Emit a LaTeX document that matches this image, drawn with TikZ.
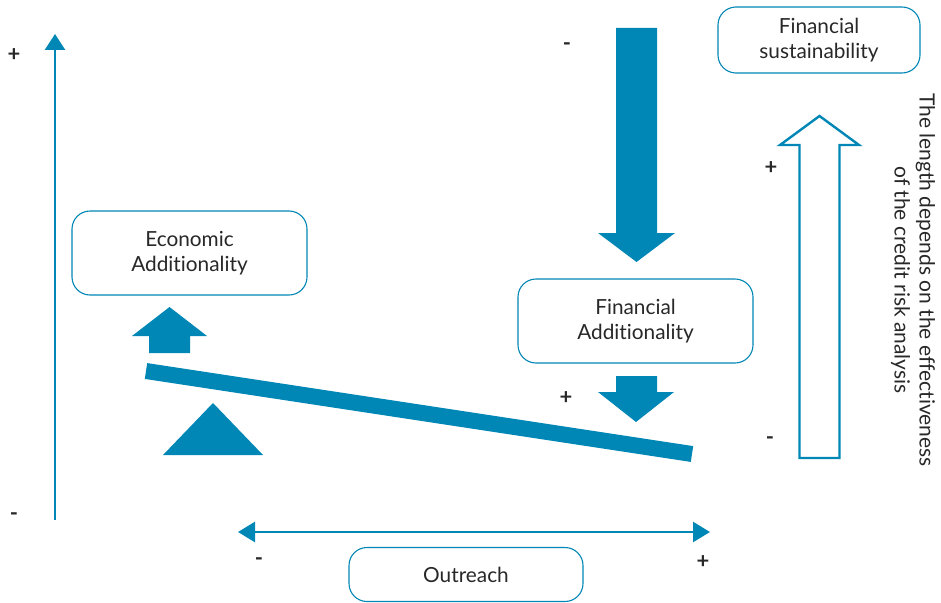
\documentclass[tikz,border=0pt]{standalone}
\usepackage{fontspec}
\setmainfont[Ligatures={NoCommon}]{Lato}
\usetikzlibrary{arrows.meta}
\definecolor{cblue}{RGB}{0,135,181}
\definecolor{ctext}{RGB}{40,40,40}
\begin{document}
\begin{tikzpicture}[x=1pt,y=-1pt,
  box/.style={draw=cblue,line width=1.1pt,rounded corners=18pt,fill=white,
    text=ctext,align=center,font=\fontsize{20.8}{25}\selectfont,inner sep=0pt},
  sign/.style={text=ctext,font=\fontsize{22}{22}\selectfont\bfseries,inner sep=0pt},
  solid arrow/.style={fill=cblue,draw=none},
  hollow arrow/.style={draw=cblue,line width=2.4pt,fill=white,line join=miter}]
\useasboundingbox (0,0) rectangle (941,602);
% left vertical axis
\coordinate (axB) at (55,520);
\coordinate (axT) at (55,34);
\draw[cblue,line width=2.6pt,-{Triangle[length=16pt,width=20pt]}] (axB) -- (axT);
\node[sign] (pl1) at (14,55) {+};
\node[sign] (mi1) at (14,517) {-};
% big down arrow
\fill[solid arrow] (616,28) -- (657,28) -- (657,233) -- (675,233) -- (636.5,262) -- (598,233) -- (616,233) -- cycle;
\node[sign] (mi2) at (567,47) {-};
% Financial sustainability
\node[box,minimum width=202pt,minimum height=66pt] (fs) at (819,40) {Financial\\sustainability};
% hollow up arrow
\draw[hollow arrow] (799.5,458) -- (839.5,458) -- (839.5,145) -- (859,145) -- (819.5,116) -- (780,145) -- (799.5,145) -- cycle;
\node[sign] (pl2) at (771,168) {+};
\node[sign] (mi3) at (770,441) {-};
\node[text=ctext,align=center,rotate=-90,font=\fontsize{21}{25}\selectfont,inner sep=0pt] (len) at (913,280)
  {The length depends on the effectiveness\\of the credit risk analysis};
% Economic additionality
\node[box,minimum width=235pt,minimum height=84pt] (ea) at (189.5,253) {Economic\\Additionality};
% small up arrow
\fill[solid arrow] (149,353) -- (190,353) -- (190,336) -- (207,336) -- (169.5,307) -- (132,336) -- (149,336) -- cycle;
% beam
\coordinate (bL) at (146,371);
\coordinate (bR) at (692,454);
\draw[cblue,line width=16pt] (bL) -- (bR);
% fulcrum
\fill[solid arrow] (163,455) -- (213,403) -- (263,455) -- cycle;
% Financial additionality
\node[box,minimum width=235pt,minimum height=84pt] (fa) at (635.5,321) {Financial\\Additionality};
% small down arrow
\fill[solid arrow] (616,376) -- (657,376) -- (657,392) -- (674,392) -- (636,422) -- (598,392) -- (616,392) -- cycle;
\node[sign] (pl3) at (566,398) {+};
% outreach axis
\coordinate (oL) at (238,532);
\coordinate (oR) at (710,532);
\draw[cblue,line width=2.6pt,{Triangle[length=17pt,width=20pt]}-{Triangle[length=17pt,width=20pt]}] (oL) -- (oR);
\node[sign] (mi4) at (259,562) {-};
\node[sign] (pl4) at (703,562) {+};
\node[box,minimum width=234pt,minimum height=54pt] (out) at (466,574.5) {Outreach};
\end{tikzpicture}
\end{document}
